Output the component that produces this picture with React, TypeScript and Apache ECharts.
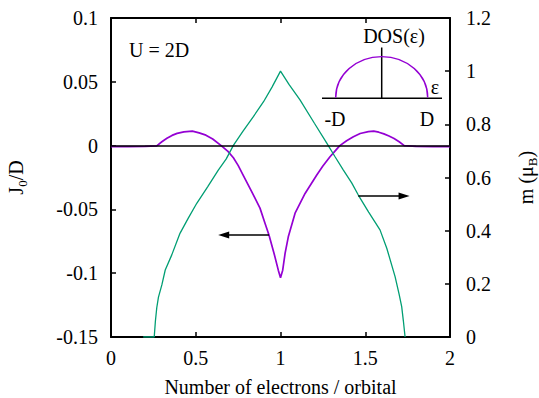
import React, { useEffect, useRef } from "react";
import * as echarts from "echarts";

const FONT = "Liberation Serif";

// J0/D (left axis) vs number of electrons per orbital
const nJ = [0, 0.1, 0.2, 0.27, 0.3, 0.33, 0.36, 0.39, 0.43, 0.48, 0.52, 0.56, 0.6, 0.65, 0.69, 0.722, 0.75, 0.781, 0.83, 0.879, 0.909, 0.932, 0.962, 0.987, 1.0, 1.013, 1.027, 1.046, 1.086, 1.145, 1.214, 1.25, 1.292, 1.32, 1.35, 1.39, 1.43, 1.47, 1.518, 1.55, 1.58, 1.61, 1.64, 1.67, 1.7, 1.73, 1.8, 1.9, 2.0];
const jValues = [-0.0008, -0.0008, -0.0006, -0.0002, 0.003, 0.0057, 0.008, 0.0096, 0.0108, 0.0113, 0.01, 0.0082, 0.0052, 0.0, -0.0045, -0.0095, -0.0155, -0.0235, -0.036, -0.049, -0.061, -0.07, -0.0845, -0.0976, -0.1035, -0.0976, -0.0845, -0.0715, -0.053, -0.0375, -0.023, -0.016, -0.0087, -0.0045, 0.0, 0.0038, 0.0069, 0.0095, 0.0109, 0.0113, 0.0105, 0.0092, 0.0075, 0.0055, 0.003, 0.0, -0.0006, -0.0008, -0.0008];

// m (muB) (right axis)
const nM = [0.19, 0.255, 0.262, 0.27, 0.28, 0.3, 0.32, 0.358, 0.407, 0.456, 0.506, 0.57, 0.633, 0.68, 0.722, 0.78, 0.84, 0.9, 0.95, 1.0, 1.05, 1.115, 1.2, 1.273, 1.32, 1.371, 1.42, 1.459, 1.52, 1.587, 1.627, 1.676, 1.7, 1.715, 1.725, 1.735];
const mValues = [0, 0, 0.06, 0.11, 0.15, 0.196, 0.252, 0.308, 0.39, 0.447, 0.503, 0.565, 0.628, 0.67, 0.721, 0.775, 0.829, 0.885, 0.94, 1.0, 0.95, 0.892, 0.804, 0.729, 0.68, 0.628, 0.58, 0.534, 0.47, 0.403, 0.334, 0.227, 0.16, 0.114, 0.06, 0];

const xTicks = { min: 0, max: 2, interval: 0.5 };
const jTicks = { min: -0.15, max: 0.1, interval: 0.05 };
const mTicks = { min: 0, max: 1.2, interval: 0.2 };

// arrow annotations (data coordinates)
const leftArrow = { from: [0.932, -0.07], to: [0.665, -0.07] };
const rightArrow = { from: [1.459, 0.53], to: [1.729, 0.53] };

const purple = "#9400d3";
const green = "#009e73";

const fmt2 = (v: number) => String(+v.toFixed(2));
const fmt1 = (v: number) => String(+v.toFixed(1));

const axisLine = { onZero: false, lineStyle: { color: "#000", width: 2 } };
const axisTick = { inside: true, length: 5, lineStyle: { color: "#000", width: 1.5 } };
const labelStyle = { fontSize: 20, color: "#000", fontFamily: FONT };

export default function App() {
  const ref = useRef<HTMLDivElement>(null);
  useEffect(() => {
    if (!ref.current) return;
    const chart = echarts.init(ref.current, null, { renderer: "svg" });
    const richName = {
      a: { fontSize: 20, color: "#000", fontFamily: FONT, lineHeight: 26 },
      s: { fontSize: 13, color: "#000", fontFamily: FONT, lineHeight: 13, verticalAlign: "bottom" },
    };
    const option: any = {
      animation: false,
      textStyle: { fontFamily: FONT },
      grid: { left: 111, right: 89, top: 18, bottom: 61, containLabel: false, outerBoundsMode: "none" },
      xAxis: [
        {
          type: "value",
          ...xTicks,
          position: "bottom",
          name: "Number of electrons / orbital",
          nameLocation: "middle",
          nameGap: 42,
          nameTextStyle: { ...labelStyle, lineHeight: 16 },
          axisLine,
          axisTick,
          axisLabel: { ...labelStyle, margin: 11, formatter: fmt1 },
          splitLine: { show: false },
        },
        {
          type: "value",
          ...xTicks,
          position: "top",
          axisLine,
          axisTick,
          axisLabel: { show: false },
          splitLine: { show: false },
        },
      ],
      yAxis: [
        {
          type: "value",
          ...jTicks,
          position: "left",
          name: "{a|J}{s|0}{a|/D}",
          nameLocation: "middle",
          nameRotate: 90,
          nameGap: 82,
          nameTextStyle: { fontFamily: FONT, rich: richName },
          axisLine,
          axisTick,
          axisLabel: { ...labelStyle, margin: 13, formatter: fmt2 },
          splitLine: { show: false },
        },
        {
          type: "value",
          ...mTicks,
          position: "right",
          name: "{a|m (μ}{s|B}{a|)}",
          nameLocation: "middle",
          nameRotate: 90,
          nameGap: 63,
          nameTextStyle: { fontFamily: FONT, rich: richName },
          axisLine,
          axisTick,
          axisLabel: { ...labelStyle, margin: 16, formatter: fmt1 },
          splitLine: { show: false },
        },
      ],
      series: [
        {
          type: "line",
          xAxisIndex: 0,
          yAxisIndex: 0,
          data: nJ.map((n, i) => [n, jValues[i]]),
          showSymbol: false,
          lineStyle: { color: purple, width: 1.7 },
          itemStyle: { color: purple },
          markLine: {
            silent: true,
            symbol: "none",
            label: { show: false },
            lineStyle: { color: "#000", width: 1.5, type: "solid" },
            data: [
              [{ xAxis: 0, yAxis: 0 }, { xAxis: 2, yAxis: 0 }],
              [
                { coord: leftArrow.from, symbol: "none" },
                { coord: leftArrow.to, symbol: "triangle", symbolSize: [7, 11] },
              ],
            ],
          },
        },
        {
          type: "line",
          xAxisIndex: 0,
          yAxisIndex: 1,
          data: nM.map((n, i) => [n, mValues[i]]),
          showSymbol: false,
          lineStyle: { color: green, width: 1.3 },
          itemStyle: { color: green },
          markLine: {
            silent: true,
            symbol: "none",
            label: { show: false },
            lineStyle: { color: "#000", width: 1.5, type: "solid" },
            data: [
              [
                { coord: rightArrow.from, symbol: "none" },
                { coord: rightArrow.to, symbol: "triangle", symbolSize: [7, 11] },
              ],
            ],
          },
        },
      ],
      graphic: [
        {
          type: "text",
          x: 129,
          y: 50,
          style: { text: "U = 2D", fontSize: 20, fontFamily: FONT, fill: "#000", textAlign: "left", textVerticalAlign: "middle" },
        },
        {
          type: "line",
          shape: { x1: 322, y1: 98.3, x2: 442, y2: 98.3 },
          style: { stroke: "#000", lineWidth: 1.5 },
        },
        {
          type: "line",
          shape: { x1: 381.7, y1: 47.5, x2: 381.7, y2: 98.3 },
          style: { stroke: "#000", lineWidth: 1.5 },
        },
        {
          type: "arc",
          x: 381.7,
          y: 97.5,
          scaleY: 0.89,
          shape: { cx: 0, cy: 0, r: 46, startAngle: Math.PI, endAngle: 2 * Math.PI, clockwise: true },
          style: { stroke: purple, lineWidth: 1.5, fill: "none", strokeNoScale: true },
        },
        {
          type: "text",
          x: 394,
          y: 36,
          style: { text: "DOS(ε)", fontSize: 20, fontFamily: FONT, fill: "#000", textAlign: "center", textVerticalAlign: "middle" },
        },
        {
          type: "text",
          x: 435,
          y: 87,
          style: { text: "ε", fontSize: 20, fontFamily: FONT, fill: "#000", textAlign: "center", textVerticalAlign: "middle" },
        },
        {
          type: "text",
          x: 335,
          y: 119,
          style: { text: "-D", fontSize: 20, fontFamily: FONT, fill: "#000", textAlign: "center", textVerticalAlign: "middle" },
        },
        {
          type: "text",
          x: 427,
          y: 119,
          style: { text: "D", fontSize: 20, fontFamily: FONT, fill: "#000", textAlign: "center", textVerticalAlign: "middle" },
        },
      ],
    };
    chart.setOption(option);
    return () => chart.dispose();
  }, []);
  return (
    <div
      ref={ref}
      style={{ position: "fixed", left: 0, top: 0, width: 539, height: 398, background: "#fff" }}
    />
  );
}
